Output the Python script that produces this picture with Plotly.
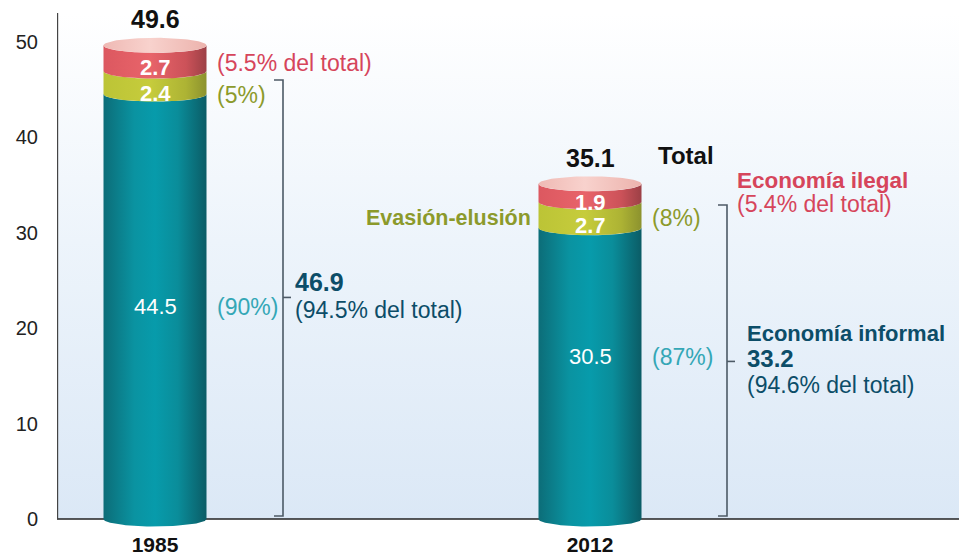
import numpy as np
import plotly.graph_objects as go

# ---- data ----
years = ["1985", "2012"]
informal_core = [44.5, 30.5]      # teal segment
evasion = [2.4, 2.7]              # yellow-green segment (Evasión-elusión)
ilegal = [2.7, 1.9]               # red segment (Economía ilegal)
totals = [49.6, 35.1]
informal_total = [46.9, 33.2]
pct_core = ["(90%)", "(87%)"]
pct_evasion = ["(5%)", "(8%)"]
pct_ilegal_total = ["(5.5% del total)", "(5.4% del total)"]
pct_informal_total = ["(94.5% del total)", "(94.6% del total)"]

# ---- geometry / style ----
W, H = 959, 557
PX_PER_UNIT = 9.55
M_L, M_R, M_T, M_B = 57, 0, 13, 29
plot_h = H - M_T - M_B
ymax = (519 - M_T) / PX_PER_UNIT
ymin = ymax - plot_h / PX_PER_UNIT
XPX = 435.0
xmin = -(155 - M_L) / XPX
xmax = 1 + (W - M_R - 590) / XPX
bw = 51.5 / XPX           # half width
eh = 7.5 / PX_PER_UNIT    # ellipse half-height

FONT = "Liberation Sans, Arial, sans-serif"
RED_T = "#d6455b"
OLIVE_T = "#8c9a2b"
TEAL_T = "#34a7b6"
DARK_T = "#0c4d68"

teal_cs = [[0, "#0c6d78"], [0.3, "#0a93a1"], [0.5, "#079bab"], [0.72, "#0a8d9a"], [1, "#0b5c66"]]
yel_cs = [[0, "#bcc436"], [0.45, "#c6cc3c"], [0.8, "#adb334"], [1, "#8c922e"]]
red_cs = [[0, "#dc5860"], [0.45, "#e8646a"], [0.8, "#cc5259"], [1, "#9c4046"]]
top_cs = [[0, "#efb9b4"], [0.45, "#f8d2cd"], [1, "#ecb3ad"]]

fig = go.Figure()

# background gradient
fig.add_trace(go.Scatter(
    x=[xmin, xmax, xmax, xmin, xmin], y=[0, 0, ymax, ymax, 0],
    mode="lines", line=dict(width=0), fill="toself",
    fillgradient=dict(type="vertical", start=0, stop=ymax,
                      colorscale=[[0, "#dbe8f6"], [0.55, "#edf4fb"], [1, "#ffffff"]]),
    hoverinfo="skip", showlegend=False))

# axis lines
fig.add_trace(go.Scatter(x=[xmin, xmax], y=[0, 0], mode="lines",
                         line=dict(color="#222", width=1.5), hoverinfo="skip", showlegend=False))
fig.add_trace(go.Scatter(x=[xmin + 0.001, xmin + 0.001], y=[0, ymax], mode="lines",
                         line=dict(color="#444", width=1.5), hoverinfo="skip", showlegend=False))


def seg(cx, y0, y1, cs):
    th = np.linspace(0, np.pi, 50)
    bx = cx - bw * np.cos(th)
    by = y0 - eh * np.sin(th)
    tx = cx + bw * np.cos(th)
    ty = y1 - eh * np.sin(th)
    xs = np.concatenate([bx, tx, bx[:1]])
    ys = np.concatenate([by, ty, by[:1]])
    fig.add_trace(go.Scatter(
        x=xs, y=ys, mode="lines", line=dict(width=0), fill="toself",
        fillgradient=dict(type="horizontal", start=cx - bw, stop=cx + bw, colorscale=cs),
        hoverinfo="skip", showlegend=False))


for i in range(2):
    cx = i
    b0 = 0
    b1 = informal_core[i]
    b2 = b1 + evasion[i]
    b3 = b2 + ilegal[i]
    seg(cx, b0, b1, teal_cs)
    seg(cx, b1, b2, yel_cs)
    seg(cx, b2, b3, red_cs)
    th = np.linspace(0, 2 * np.pi, 100)
    fig.add_trace(go.Scatter(
        x=cx + bw * np.cos(th), y=totals[i] + eh * np.sin(th), mode="lines",
        line=dict(width=0), fill="toself",
        fillgradient=dict(type="horizontal", start=cx - bw, stop=cx + bw, colorscale=top_cs),
        hoverinfo="skip", showlegend=False))

# brackets
br_x = [128 / XPX, 137 / XPX]
br_top = [(519 - 80) / PX_PER_UNIT, (519 - 205) / PX_PER_UNIT]
br_bot = 3 / PX_PER_UNIT
br_mid = [23.2, 16.5]
hook = 9 / XPX
notch = 8 / XPX
for i in range(2):
    bx = i + br_x[i]
    fig.add_trace(go.Scatter(
        x=[bx - hook, bx, bx, bx - hook], y=[br_top[i], br_top[i], br_bot, br_bot],
        mode="lines", line=dict(color="#4d5a66", width=1.6), hoverinfo="skip", showlegend=False))
    fig.add_trace(go.Scatter(
        x=[bx, bx + notch], y=[br_mid[i], br_mid[i]],
        mode="lines", line=dict(color="#4d5a66", width=1.6), hoverinfo="skip", showlegend=False))

ann = []


def A(x, y, text, color, size=23, bold=False, xanchor="center"):
    ann.append(dict(x=x, y=y, xref="x", yref="y", text=text, showarrow=False,
                    xanchor=xanchor, yanchor="middle", borderpad=0,
                    font=dict(family=FONT, size=size, color=color,
                              weight="bold" if bold else "normal")))


PCT_DX = 61 / XPX
for i in range(2):
    b1 = informal_core[i]
    b2 = b1 + evasion[i]
    A(i, b2 + ilegal[i] / 2 - 1.0, f"{ilegal[i]}", "white", size=22, bold=True)
    A(i, b1 + evasion[i] / 2 - 1.1, f"{evasion[i]}", "white", size=22, bold=True)
    A(i, totals[i] + 2.75, f"{totals[i]}", "#111", size=25, bold=True)

A(0, 22.2, f"{informal_core[0]}", "white", size=22)
A(1, 17.0, f"{informal_core[1]}", "white", size=22)

# 1985 side labels
A(PCT_DX, 47.7, pct_ilegal_total[0], RED_T, xanchor="left")
A(PCT_DX, 44.4, pct_evasion[0], OLIVE_T, xanchor="left")
A(PCT_DX, 22.2, pct_core[0], TEAL_T, xanchor="left")
A(0.32, 24.8, f"{informal_total[0]}", DARK_T, size=25, bold=True, xanchor="left")
A(0.32, 21.9, pct_informal_total[0], DARK_T, xanchor="left")

# 2012 side labels
A(1 + PCT_DX, 31.5, pct_evasion[1], OLIVE_T, xanchor="left")
A(1 + PCT_DX, 17.0, pct_core[1], TEAL_T, xanchor="left")
A(0.866, 31.5, "Evasión-elusión", OLIVE_T, size=21.5, bold=True, xanchor="right")
A(1.154, 38.1, "Total", "#111", size=24, bold=True, xanchor="left")
A(1.336, 35.4, "Economía ilegal", RED_T, size=22.5, bold=True, xanchor="left")
A(1.336, 33.0, pct_ilegal_total[1], RED_T, xanchor="left")
A(1.358, 19.45, "Economía informal", DARK_T, size=22, bold=True, xanchor="left")
A(1.358, 16.85, f"{informal_total[1]}", DARK_T, size=24, bold=True, xanchor="left")
A(1.358, 14.0, pct_informal_total[1], DARK_T, xanchor="left")

fig.update_layout(
    width=W, height=H,
    margin=dict(l=M_L, r=M_R, t=M_T, b=M_B, autoexpand=False),
    paper_bgcolor="white", plot_bgcolor="white",
    annotations=ann,
    font=dict(family=FONT),
    xaxis=dict(range=[xmin, xmax], tickvals=[0, 1], ticktext=years, showgrid=False,
               zeroline=False, showline=False, ticks="", automargin=False,
               tickfont=dict(family=FONT, size=21, color="#111", weight="bold"),
               ticklabelstandoff=2),
    yaxis=dict(range=[ymin, ymax], tickvals=[0, 10, 20, 30, 40, 50], showgrid=False,
               zeroline=False, showline=False, ticks="", automargin=False,
               tickfont=dict(family=FONT, size=20, color="#222"),
               ticklabelstandoff=18),
)

fig.write_html("out.html", config={"displayModeBar": False},
               post_script="document.body.style.margin='0';document.body.style.overflow='hidden';")
